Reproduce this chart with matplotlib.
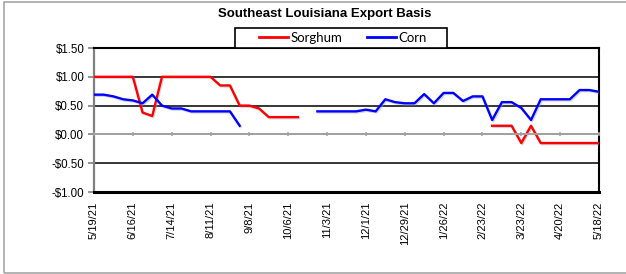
import numpy as np
import pandas as pd
import matplotlib
matplotlib.use("Agg")
import matplotlib.pyplot as plt
import matplotlib.patheffects as pe
from matplotlib.patches import Rectangle
from matplotlib.ticker import FuncFormatter

nan = np.nan
dates = pd.date_range("2021-05-19", periods=53, freq="7D")

sorghum = ([1.00] * 5 + [0.38, 0.32] + [1.00] * 6 + [0.85, 0.85, 0.50, 0.50, 0.45]
           + [0.30] * 4 + [nan] * 19 + [0.15] * 3 + [-0.15, 0.15] + [-0.15] * 7)
corn = ([0.69, 0.69, 0.66, 0.61, 0.59, 0.54, 0.69, 0.50, 0.45, 0.45] + [0.40] * 5 + [0.15]
        + [nan] * 7 + [0.40] * 5 + [0.43, 0.40, 0.61, 0.56, 0.54, 0.54, 0.70, 0.54, 0.72,
        0.72, 0.58, 0.66, 0.66, 0.25, 0.56, 0.56, 0.46, 0.25] + [0.61] * 4 + [0.77, 0.77, 0.74])

tick_labels = ["5/19/21", "6/16/21", "7/14/21", "8/11/21", "9/8/21", "10/6/21", "11/3/21",
               "12/1/21", "12/29/21", "1/26/22", "2/23/22", "3/23/22", "4/20/22", "5/18/22"]
y_ticks = [-1.0, -0.5, 0.0, 0.5, 1.0, 1.5]

W, H = 626, 274
fig = plt.figure(figsize=(W / 100, H / 100), dpi=100)
plt.rcParams['font.family'] = ['Liberation Sans', 'DejaVu Sans']

# outer chart frame
fig.patches.append(Rectangle((4 / W, 1 / H), 1.2, 271 / H, transform=fig.transFigure,
                             fill=False, edgecolor="#a6a6a6", linewidth=1.2))

ax = fig.add_axes([94 / W, 82 / H, 505 / W, 144 / H])
x = np.arange(len(dates))
shadow = [pe.SimpleLineShadow(offset=(0.8, -0.8), shadow_color="#9aa0b0", alpha=0.45), pe.Normal()]
l1, = ax.plot(x, sorghum, color="#ff0000", lw=1.7, label="Sorghum", path_effects=shadow, zorder=4)
l2, = ax.plot(x, corn, color="#0000ff", lw=1.7, label="Corn", path_effects=shadow, zorder=4)

ax.set_xlim(0, len(dates) - 1)
ax.set_ylim(-1.0, 1.5)
ax.set_yticks(y_ticks)
ax.yaxis.set_major_formatter(FuncFormatter(lambda v, p: ("-$%.2f" % abs(v)) if v < 0 else "$%.2f" % v))
for v in [1.0, 0.5, -0.5]:
    ax.axhline(v, color="black", lw=1.1, zorder=2)

tick_pos = x[::4]
ax.set_xticks(tick_pos)
ax.set_xticklabels(tick_labels, rotation=90, fontsize=8)
ax.tick_params(axis="x", length=0, pad=7)
ax.tick_params(axis="y", labelsize=8.3, color="#808080", length=4, width=1.2, pad=3)

for s in ["top", "right"]:
    ax.spines[s].set_color("black")
    ax.spines[s].set_linewidth(1.5)
ax.spines["bottom"].set_color("black")
ax.spines["bottom"].set_linewidth(2.2)
ax.spines["left"].set_color("#808080")
ax.spines["left"].set_linewidth(1.6)

# zero axis with tick marks
ax2 = ax.twiny()
ax2.set_xlim(ax.get_xlim())
ax2.xaxis.set_ticks_position("bottom")
ax2.spines["bottom"].set_position(("data", 0))
ax2.spines["bottom"].set_color("#a0a0a0")
ax2.spines["bottom"].set_linewidth(1.4)
for s in ["top", "right", "left"]:
    ax2.spines[s].set_visible(False)
ax2.set_xticks(tick_pos)
ax2.set_xticklabels([])
ax2.tick_params(axis="x", direction="inout", length=3.5, color="#a0a0a0", width=1.1)

fig.text(325 / W, 1 - 14 / H, "Southeast Louisiana Export Basis", ha="center", va="center",
         fontsize=9.5, fontweight="bold")

# legend box
fig.patches.append(Rectangle((235 / W, 1 - 48 / H), 212 / W, 20 / H, transform=fig.transFigure,
                             fill=True, facecolor="white", edgecolor="black", linewidth=1.2,
                             zorder=5))
leg = fig.legend(handles=[l1, l2], loc="center", bbox_to_anchor=(343 / W, 1 - 38 / H), ncol=2,
                 frameon=False, prop={"family": "Lato", "size": 9.5}, handlelength=2.2,
                 columnspacing=1.9, handletextpad=0.15, borderpad=0.3)
leg.set_zorder(6)
for h in leg.legend_handles:
    h.set_path_effects([])
    h.set_linewidth(2)

fig.savefig("out.png", dpi=100)
